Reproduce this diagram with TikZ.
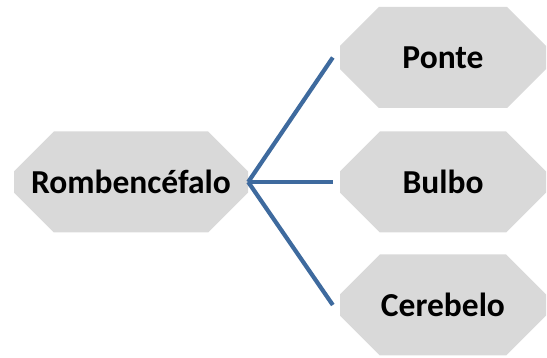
\documentclass[tikz,border=0pt]{standalone}
\usepackage{fontspec}
\setmainfont{Carlito}
\usetikzlibrary{shapes.misc}
\definecolor{boxgray}{HTML}{D9D9D9}
\definecolor{linkblue}{HTML}{3E6A9E}

\begin{document}
\begin{tikzpicture}[x=1pt,y=-1pt]
      \useasboundingbox (0,0) rectangle (547,358);
      \begin{scope}[every node/.style={fill=boxgray,chamfered rectangle,
          chamfered rectangle xsep=24pt,chamfered rectangle ysep=28pt,
          inner sep=0pt,minimum height=101pt,
          font=\fontsize{33.5}{38}\selectfont\bfseries}]
        \draw
          (131, 182) node[minimum width=234pt] (romb){Rombencéfalo}
          (443, 57.5) node[minimum width=206pt] (ponte){Ponte}
          (443, 182) node[minimum width=206pt] (bulbo){Bulbo}
          (443, 305) node[minimum width=206pt] (cereb){Cerebelo};
      \end{scope}
      \begin{scope}[linkblue,line width=4.2pt]
        \draw (romb.east) -- ([xshift=-7pt]ponte.west);
        \draw (romb.east) -- ([xshift=-7pt]bulbo.west);
        \draw (romb.east) -- ([xshift=-7pt]cereb.west);
      \end{scope}
    \end{tikzpicture}
\end{document}
